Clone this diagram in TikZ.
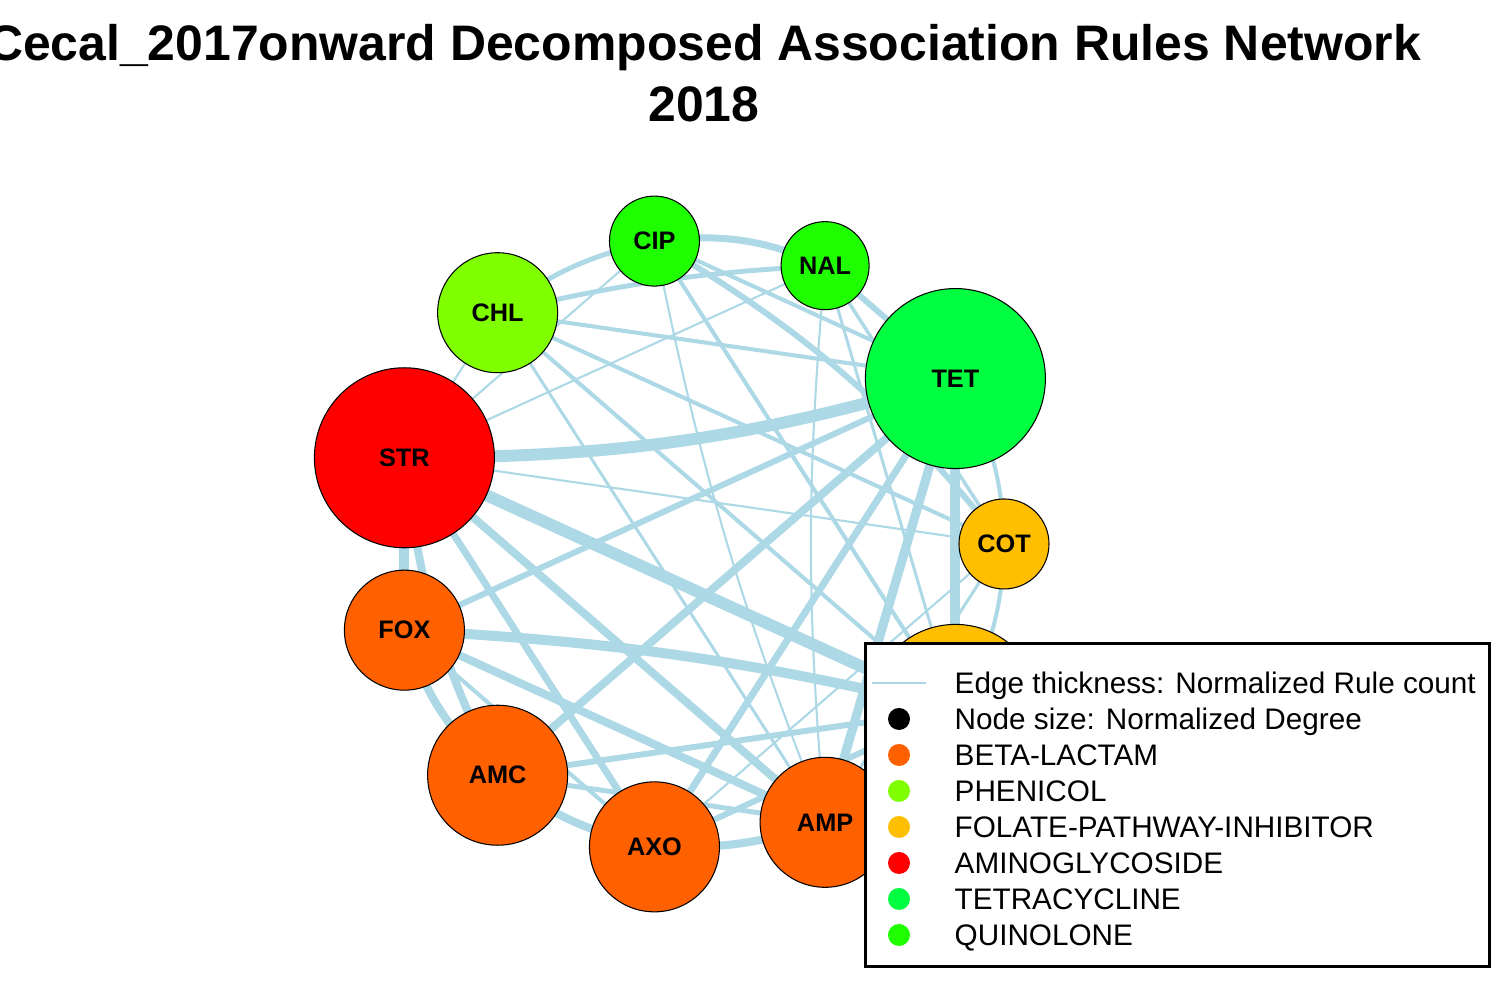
\documentclass[tikz,border=0pt]{standalone}
\usepackage{fontspec}
\setmainfont{Liberation Sans}
\usetikzlibrary{positioning,backgrounds}
\definecolor{beta}{HTML}{FF6000}
\definecolor{phenicol}{HTML}{80FF00}
\definecolor{folate}{HTML}{FFBF00}
\definecolor{amino}{HTML}{FF0000}
\definecolor{tetra}{HTML}{00FF40}
\definecolor{quino}{HTML}{20FF00}
\definecolor{edgeblue}{HTML}{ADD8E6}
\tikzset{
  drug/.style={circle, draw=black, line width=0.3pt, inner sep=0pt,
    font=\fontsize{7.2}{8}\selectfont\bfseries},
  rule/.style={draw=edgeblue},
  keydot/.style={circle, inner sep=0pt, minimum size=0.22cm},
  keytext/.style={anchor=base west, inner sep=0pt, font=\fontsize{8.45}{10}\selectfont},
}
\begin{document}
\begin{tikzpicture}
  \useasboundingbox (0,0) rectangle (15,10);
  \node[font=\fontsize{14.2}{17}\selectfont\bfseries] (title) at (7.04,9.52)
    {Cecal\_2017onward Decomposed Association Rules Network};
  \node[font=\fontsize{14.2}{17}\selectfont\bfseries] (year) at (7.04,8.96) {2018};
  % drugs on a circle
  \begin{scope}[shift={(6.98,4.56)}]
    \foreach \nm/\txt/\col/\sz [count=\i from 0] in {cot/COT/folate/0.9,
        tet/TET/tetra/1.8, nal/NAL/quino/0.88, cip/CIP/quino/0.9,
        chl/CHL/phenicol/1.2, str/STR/amino/1.8, fox/FOX/beta/1.2,
        amc/AMC/beta/1.4, axo/AXO/beta/1.3, amp/AMP/beta/1.3, fol/{}/folate/1.7}
      \node[drug, fill=\col, minimum size=\sz cm] (\nm) at ({\i*360/11}:3.06) {\txt};
  \end{scope}
  % rules
  \begin{pgfonlayer}{background}
    \foreach \a/\b/\w/\bb in {nal/cip/2.0/15, cip/chl/1.4/12, cip/tet/1.15/0,
        cot/cip/1.7/10, cip/fol/1.15/0, cip/amp/0.6/5, cip/str/0.6/0,
        nal/chl/1.4/5, nal/tet/1.7/0, nal/cot/1.0/0, nal/fol/0.85/0,
        nal/amp/0.6/5, nal/str/0.6/0, chl/tet/1.15/0, chl/cot/1.15/0,
        chl/fol/1.15/0, chl/amp/0.85/0, chl/str/0.6/0, str/tet/3.4/8,
        str/cot/0.6/0, str/fol/3.4/0, str/amp/2.3/0, str/axo/2.0/0,
        str/amc/2.3/10, str/fox/2.85/0, cot/tet/1.15/15, tet/fol/2.85/0,
        tet/amp/2.6/0, tet/axo/2.0/0, tet/amc/2.3/0, tet/fox/1.7/0,
        fol/cot/1.15/15, cot/amp/0.85/0, cot/axo/0.6/0, fol/amp/1.7/0,
        fol/axo/1.7/0, fol/amc/1.7/0, fol/fox/2.85/5, axo/amp/2.3/10,
        amc/amp/1.4/0, fox/amp/2.3/0, amc/axo/2.3/12, fox/axo/1.15/0,
        fox/amc/2.3/15}
      \draw[rule, line width=\w pt] (\a.center) to[bend right=\bb] (\b.center);
  \end{pgfonlayer}
  % legend
  \node[draw, fill=white, line width=0.85pt, minimum width=6.24cm, minimum height=3.23cm,
    anchor=south west] (key) at (8.64,0.32) {};
  \coordinate (k0a) at (8.72,3.17);
  \coordinate (k0b) at (9.26,3.17);
  \draw[rule, line width=0.4pt] (k0a) -- (k0b);
  \node[keytext] (t0) at (9.54,3.065) {Edge thickness: Normalized Rule count};
  \foreach \col/\txt [count=\i] in {black/Node size: Normalized Degree,
      beta/BETA-LACTAM, phenicol/PHENICOL, folate/FOLATE-PATHWAY-INHIBITOR,
      amino/AMINOGLYCOSIDE, tetra/TETRACYCLINE, quino/QUINOLONE}
  {
    \node[keydot, fill=\col] (d\i) at (8.99,{3.17-0.36*\i}) {};
    \node[keytext] (t\i) at (9.54,{3.065-0.36*\i}) {\txt};
  }
\end{tikzpicture}
\end{document}
